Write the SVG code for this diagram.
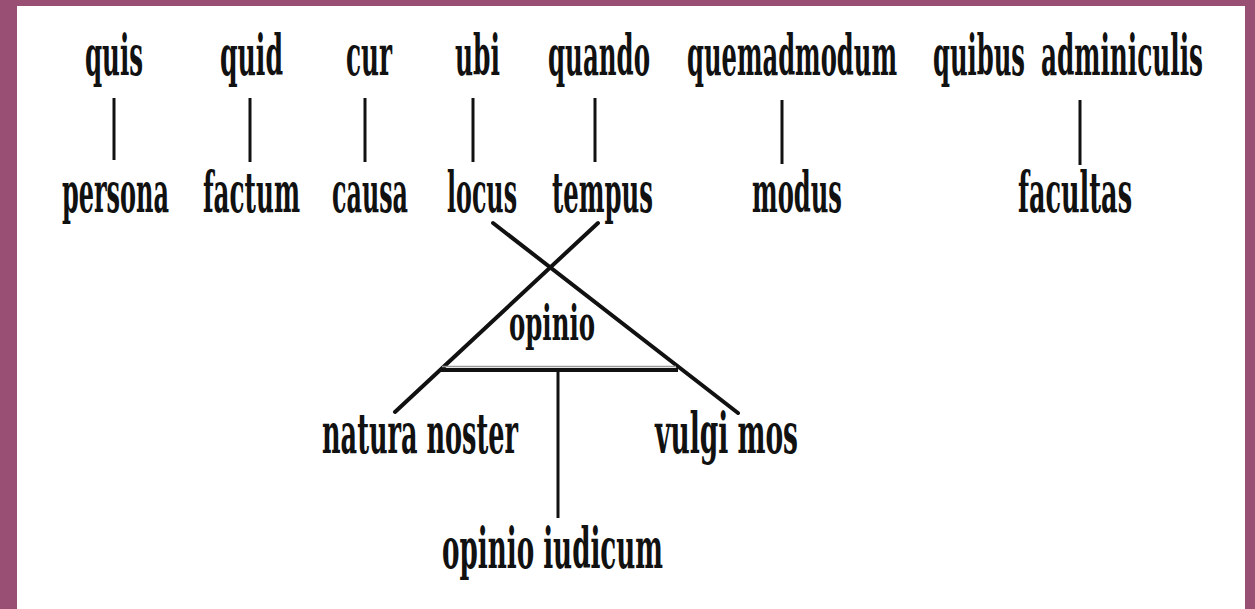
<svg xmlns="http://www.w3.org/2000/svg" width="1255" height="609" viewBox="0 0 1255 609">
  <style>
    .t { font-family: "DejaVu Serif Condensed", "DejaVu Serif", "Liberation Serif", serif; font-stretch: condensed; font-weight: bold; font-size: 56px; fill: #111; }
    .s { font-size: 48px; }
    .v { stroke: #111; stroke-width: 3; fill: none; }
    .d { stroke: #111; stroke-width: 4; fill: none; stroke-linecap: round; }
  </style>
  <!-- frame -->
  <rect x="0" y="0" width="1255" height="609" fill="#994f73"/>
  <rect x="17" y="6" width="1228" height="603" fill="#ffffff"/>

  <!-- connectors -->
  <g id="connectors">
    <line class="v" x1="114" y1="98" x2="114" y2="160"/>
    <line class="v" x1="250" y1="98" x2="250" y2="162"/>
    <line class="v" x1="365" y1="98" x2="365" y2="162"/>
    <line class="v" x1="473" y1="98" x2="473" y2="162"/>
    <line class="v" x1="595" y1="98" x2="595" y2="162"/>
    <line class="v" x1="782" y1="100" x2="782" y2="164"/>
    <line class="v" x1="1080" y1="100" x2="1080" y2="165"/>
    <!-- crossing diagonals -->
    <line class="d" x1="493" y1="223" x2="738" y2="413"/>
    <line class="d" x1="598" y1="223" x2="395" y2="412"/>
    <!-- base of the triangle -->
    <line stroke="#9a9a9a" stroke-width="1.5" x1="442" y1="366.5" x2="676" y2="366.5"/>
    <line stroke="#111" stroke-width="4" x1="440" y1="370" x2="678" y2="370"/>
    <line class="v" x1="558" y1="370" x2="558" y2="518"/>
  </g>

  <!-- questions -->
  <g id="q-quis"><text class="t" x="85" y="75" textLength="58" lengthAdjust="spacingAndGlyphs">quis</text></g>
  <g id="q-quid"><text class="t" x="220" y="75" textLength="63" lengthAdjust="spacingAndGlyphs">quid</text></g>
  <g id="q-cur"><text class="t" x="346" y="75" textLength="46" lengthAdjust="spacingAndGlyphs">cur</text></g>
  <g id="q-ubi"><text class="t" x="455" y="75" textLength="45" lengthAdjust="spacingAndGlyphs">ubi</text></g>
  <g id="q-quando"><text class="t" x="548" y="75" textLength="102" lengthAdjust="spacingAndGlyphs">quando</text></g>
  <g id="q-quemadmodum"><text class="t" x="687" y="75" textLength="210" lengthAdjust="spacingAndGlyphs">quemadmodum</text></g>
  <g id="q-quibus"><text class="t" x="933" y="75" textLength="92" lengthAdjust="spacingAndGlyphs">quibus</text><text class="t" x="1041" y="75" textLength="162" lengthAdjust="spacingAndGlyphs">adminiculis</text></g>

  <!-- circumstances -->
  <g id="c-persona"><text class="t" x="62" y="212" textLength="107" lengthAdjust="spacingAndGlyphs">persona</text></g>
  <g id="c-factum"><text class="t" x="203" y="212" textLength="97" lengthAdjust="spacingAndGlyphs">factum</text></g>
  <g id="c-causa"><text class="t" x="332" y="212" textLength="76" lengthAdjust="spacingAndGlyphs">causa</text></g>
  <g id="c-locus"><text class="t" x="447" y="212" textLength="70" lengthAdjust="spacingAndGlyphs">locus</text></g>
  <g id="c-tempus"><text class="t" x="552" y="212" textLength="101" lengthAdjust="spacingAndGlyphs">tempus</text></g>
  <g id="c-modus"><text class="t" x="752" y="212" textLength="90" lengthAdjust="spacingAndGlyphs">modus</text></g>
  <g id="c-facultas"><text class="t" x="1018" y="212" textLength="114" lengthAdjust="spacingAndGlyphs">facultas</text></g>

  <!-- opinion triangle -->
  <g id="opinio"><text class="t s" x="509" y="340" textLength="86" lengthAdjust="spacingAndGlyphs">opinio</text></g>
  <g id="natura-noster"><text class="t" x="322" y="453" textLength="196" lengthAdjust="spacingAndGlyphs">natura noster</text></g>
  <g id="vulgi-mos"><text class="t" x="655" y="453" textLength="143" lengthAdjust="spacingAndGlyphs">vulgi mos</text></g>
  <g id="opinio-iudicum"><text class="t" x="442" y="568" textLength="221" lengthAdjust="spacingAndGlyphs">opinio iudicum</text></g>
</svg>
